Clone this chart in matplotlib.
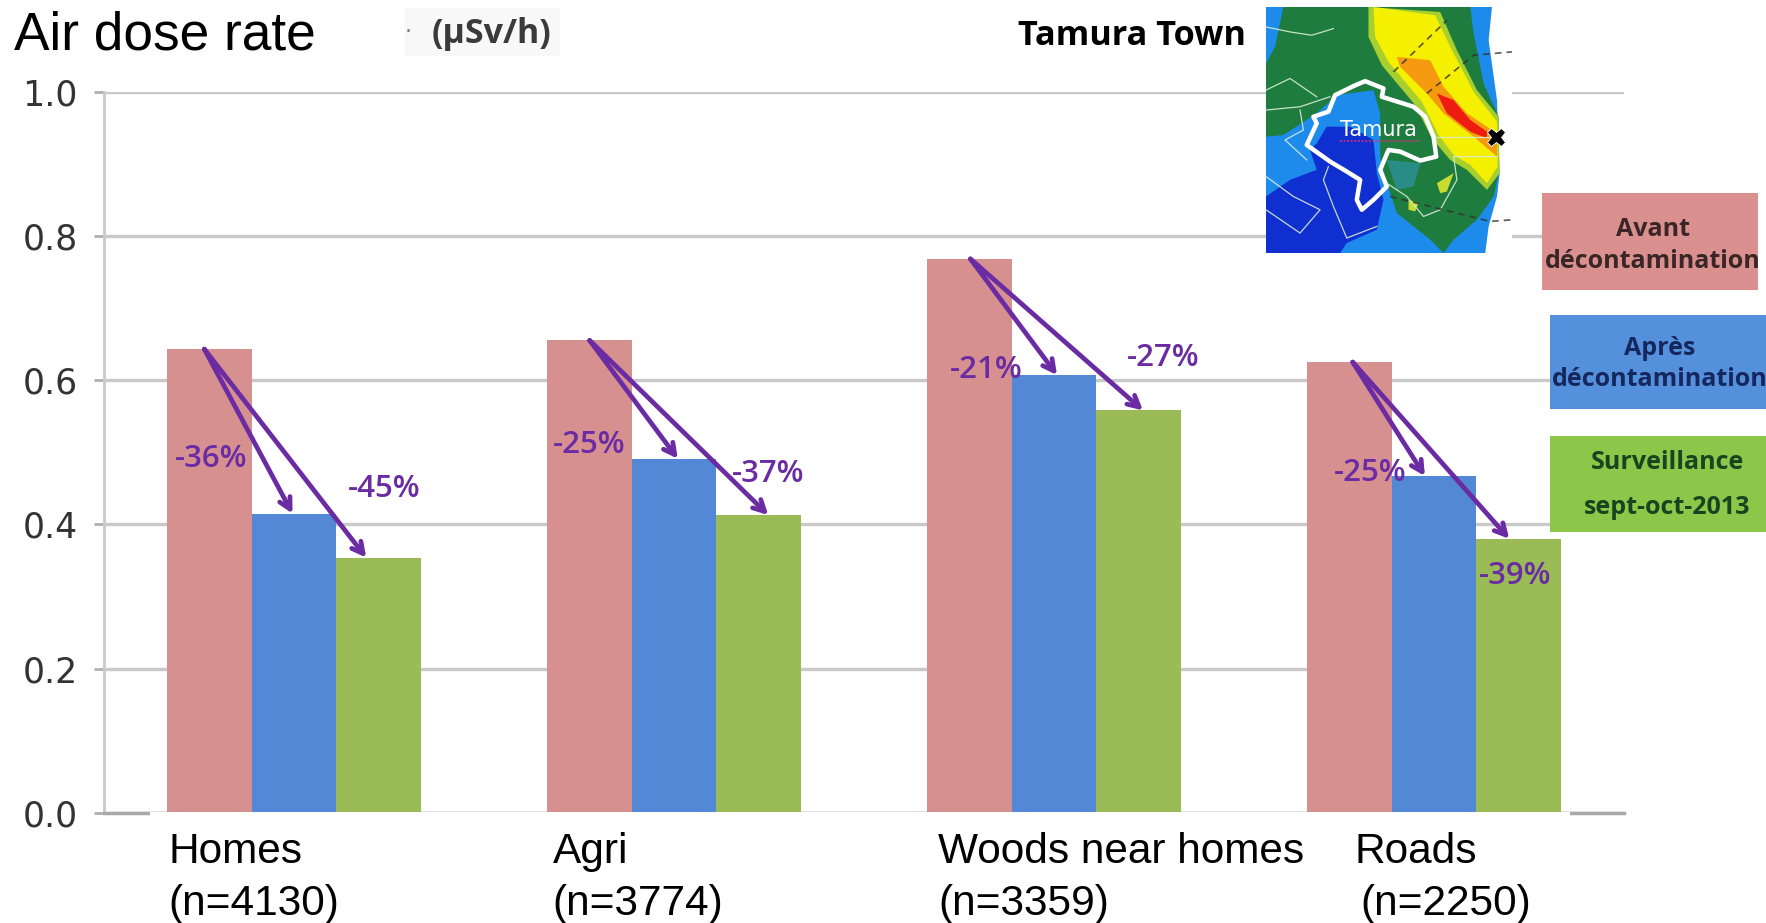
import numpy as np
import matplotlib
matplotlib.use('Agg')
import matplotlib.pyplot as plt
from matplotlib.patches import Rectangle, Polygon

W, H = 1766, 923

# Dose rates per zone
categories = ['Homes', 'Agri', 'Woods near homes', 'Roads']
sample_sizes = ['(n=4130)', '(n=3774)', '(n=3359)', '(n=2250)']
avant = [0.643, 0.655, 0.768, 0.625]
apres = [0.415, 0.491, 0.607, 0.467]
surveillance = [0.354, 0.413, 0.558, 0.380]
pct_apres = ['-36%', '-25%', '-21%', '-25%']
pct_surv = ['-45%', '-37%', '-27%', '-39%']
y_ticks = [0.0, 0.2, 0.4, 0.6, 0.8, 1.0]

RED = '#D79090'
BLUE = '#5288D6'
GREEN = '#9ABB55'
PURPLE = '#6A2BA3'
GRID = '#C9C9C9'


def fx(px):
    return px / W


def fy(py):
    return 1 - py / H


fig = plt.figure(figsize=(W / 100, H / 100), dpi=100, facecolor='white')
ax = fig.add_axes([fx(104), fy(813), (1624 - 104) / W, (813 - 91.5) / H])

x = np.arange(4) + 0.5
bw = 0.222
ax.bar(x - bw, avant, bw, color=RED, zorder=3)
ax.bar(x, apres, bw, color=BLUE, zorder=3)
ax.bar(x + bw, surveillance, bw, color=GREEN, zorder=3)

ax.set_xlim(0, 4)
ax.set_ylim(0, 1)
ax.set_yticks(y_ticks)
ax.set_yticklabels([f'{t:.1f}' for t in y_ticks], fontsize=25, color='#333333')
ax.set_xticks([])
ax.yaxis.grid(True, color=GRID, lw=2.4, zorder=0)
ax.set_axisbelow(True)
ax.tick_params(axis='y', length=7, width=2, color='#b0b0b0', pad=12)
for s in ['top', 'right']:
    ax.spines[s].set_visible(False)
ax.spines['left'].set_color(GRID)
ax.spines['left'].set_linewidth(2)
ax.spines['bottom'].set_color('#a8a8a8')
ax.spines['bottom'].set_linewidth(2.5)

# la ligne 0.2 s'arrete apres le dernier groupe
ax.add_patch(Rectangle((3.83, 0.17), 0.17, 0.06, facecolor='white', edgecolor='none', zorder=1))

# fleches violettes, decalage horizontal par rapport au centre des barres
start_dx = [-0.014, 0.0, 0.002, 0.008]
tip_apres_dx = [-0.004, 0.01, 0.008, -0.024]
tip_surv_dx = [-0.032, 0.026, 0.012, -0.024]
for i in range(4):
    start = (x[i] - bw + start_dx[i], avant[i])
    for tip in [(x[i] + tip_apres_dx[i], apres[i]), (x[i] + bw + tip_surv_dx[i], surveillance[i])]:
        ax.annotate('', xy=tip, xytext=start, zorder=5,
                    arrowprops=dict(arrowstyle='->,head_length=0.8,head_width=0.42', color=PURPLE,
                                    lw=3.4, shrinkA=0, shrinkB=0))

# masque blanc sous l'axe
fig.add_artist(Rectangle((fx(150), 0), (1570 - 150) / W, fy(812), transform=fig.transFigure,
                         facecolor='white', edgecolor='none', zorder=2))

# etiquettes de pourcentage
pct_font = dict(family='Open Sans', fontweight='semibold', fontsize=22.5, color=PURPLE, ha='center', va='center', zorder=6)
apres_xy = [(211, 459), (589, 445), (986, 370), (1370, 473)]
surv_xy = [(384, 489), (768, 474), (1163, 358), (1515, 576)]
for (px, py), s in zip(apres_xy, pct_apres):
    fig.text(fx(px), fy(py), s, **pct_font)
for (px, py), s in zip(surv_xy, pct_surv):
    fig.text(fx(px), fy(py), s, **pct_font)

# categories sous les barres
cat_font = dict(family='Liberation Sans', fontsize=30.5, color='black', va='baseline', zorder=6)
cat_x = [169, 553, 938, 1355]
n_x = [168, 552, 938, 1360]
for i in range(4):
    fig.text(fx(cat_x[i]), fy(863), categories[i], **cat_font)
    fig.text(fx(n_x[i]), fy(915), sample_sizes[i], **cat_font)

# titres
fig.text(fx(14), fy(50), 'Air dose rate', family='Liberation Sans', fontsize=38.3, color='black', va='baseline')
fig.add_artist(Rectangle((fx(405), fy(56)), 155 / W, 48 / H, transform=fig.transFigure,
                         facecolor='#F8F8F8', edgecolor='none', zorder=1))
fig.text(fx(408), fy(38), '·', family='DejaVu Sans', fontsize=16, color='#777777', ha='center', va='baseline', zorder=3)
fig.text(fx(432), fy(43), '(µSv/h)', family='Open Sans', fontweight='bold', fontsize=24.5, color='#3a3a3a',
         va='baseline', zorder=3)
fig.text(fx(1018), fy(45), 'Tamura Town', family='Open Sans', fontweight='bold', fontsize=24.7, color='black',
         va='baseline')

# blocs de legende
legend_blocks = [
    (1542, 193, 216, 97, '#DB9090', '#3a2626', ['Avant', 'décontamination'], [230, 261], 1653),
    (1550, 315, 216, 94, '#5590DC', '#16275e', ['Après', 'décontamination'], [349, 379], 1660),
    (1550, 436, 216, 96, '#8CC74A', '#17451f', ['Surveillance', 'sept-oct-2013'], [463, 508], 1667),
]
for bx, by, bw_px, bh_px, col, tcol, lines, ys, tx in legend_blocks:
    fig.add_artist(Rectangle((fx(bx), fy(by + bh_px)), bw_px / W, bh_px / H, transform=fig.transFigure,
                             facecolor=col, edgecolor='none', zorder=4))
    for line, ly in zip(lines, ys):
        fig.text(fx(tx), fy(ly), line, family='Open Sans', fontweight='bold', fontsize=18,
                 color=tcol, ha='center', va='center', zorder=6)

# carte de Tamura
mp = fig.add_axes([fx(1266), fy(253), 246 / W, 246 / H])
mp.set_zorder(5)
mp.set_xlim(78, 815)
mp.set_ylim(760, 20)
mp.axis('off')
mp.add_patch(Rectangle((78, 20), 737, 740, facecolor='white', edgecolor='none'))

land = [(78, 20), (755, 20), (745, 120), (770, 300), (778, 520), (770, 590), (745, 680), (735, 760), (78, 760)]
woods = [(130, 20), (690, 20), (700, 100), (730, 250), (775, 350), (775, 520), (760, 590), (710, 660), (640, 720),
         (610, 760), (570, 720), (470, 640), (440, 550), (420, 470), (420, 340), (400, 270), (290, 285), (230, 340),
         (130, 405), (78, 410), (78, 190), (105, 140)]
teal = [(440, 480), (540, 490), (520, 560), (470, 570)]
deep = [(230, 430), (260, 380), (330, 380), (400, 420), (410, 520), (430, 600), (410, 690), (320, 730), (300, 760),
        (78, 760), (78, 590), (150, 540), (230, 510), (210, 450)]
fringe = [(385, 20), (600, 35), (650, 150), (710, 270), (775, 350), (778, 520), (740, 570), (680, 510), (630, 480),
          (575, 415), (525, 315), (425, 195), (385, 110)]
yellow = [(400, 20), (585, 45), (635, 150), (700, 275), (770, 365), (772, 500), (740, 550), (690, 495), (640, 465),
          (595, 405), (545, 305), (445, 185), (405, 110)]
orange = [(470, 170), (570, 180), (610, 260), (680, 340), (770, 400), (770, 470), (700, 410), (610, 340), (560, 280),
          (480, 200)]
red = [(590, 280), (640, 300), (690, 360), (740, 395), (740, 415), (690, 395), (620, 340)]
spot_a = [(590, 550), (640, 520), (620, 575), (600, 580)]
spot_b = [(505, 600), (535, 610), (525, 635), (505, 630)]
for poly, col in [(land, '#1C8BEB'), (woods, '#1E7D3E'), (teal, '#2A8C86'), (deep, '#0F2FD0'),
                  (fringe, '#A9CF2E'), (yellow, '#F5F000'), (orange, '#F59A10'), (red, '#EE1C10'),
                  (spot_a, '#C8DC30'), (spot_b, '#C8DC30')]:
    mp.add_patch(Polygon(poly, closed=True, facecolor=col, edgecolor='none'))

borders = [
    [(78, 80), (150, 95), (215, 105), (280, 85)],
    [(78, 270), (150, 235), (230, 290)],
    [(78, 330), (180, 320), (270, 290)],
    [(180, 330), (190, 390), (135, 420), (200, 480)],
    [(78, 530), (160, 590), (240, 630), (180, 700), (78, 630)],
    [(265, 500), (250, 540), (280, 620), (320, 715), (410, 680)],
    [(590, 410), (770, 410)],
    [(440, 550), (500, 590), (550, 650), (600, 630), (650, 540), (640, 470), (770, 470)],
]
for line in borders:
    xs, ys = zip(*line)
    mp.plot(xs, ys, color='#d8ecd8', lw=0.9, alpha=0.9)

dashes = [[(460, 215), (620, 60)], [(560, 280), (700, 165), (815, 155)], [(450, 590), (750, 665), (815, 660)]]
for line in dashes:
    xs, ys = zip(*line)
    mp.plot(xs, ys, color='#303030', lw=1.2, ls=(0, (4, 3)), alpha=0.8)

tamura = [(375, 243), (430, 265), (425, 290), (520, 320), (555, 350), (580, 410), (588, 470), (540, 482), (480, 455),
          (445, 450), (420, 510), (440, 560), (400, 600), (365, 630), (350, 600), (360, 540), (320, 515), (270, 485),
          (200, 435), (230, 370), (220, 350), (265, 335), (285, 285), (340, 258)]
mp.add_patch(Polygon(tamura, closed=True, facecolor='none', edgecolor='white', lw=3.2, joinstyle='round'))
mp.text(415, 390, 'Tamura', color='white', family='DejaVu Sans', fontsize=15, ha='center', va='center')
mp.plot([300, 538], [422, 422], color='#d03080', lw=1.3, ls=(0, (1, 1)))
mp.plot(768, 410, marker='X', ms=13, color='black', mec='white', mew=0.6)

fig.savefig('out.png', dpi=100, facecolor='white')
